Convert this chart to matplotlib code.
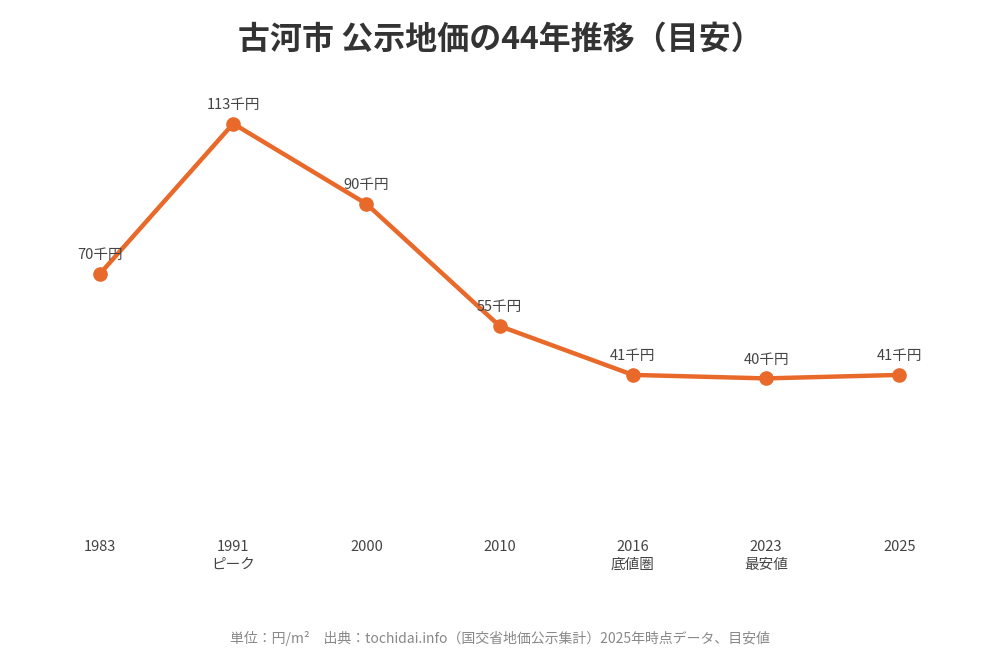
import matplotlib
matplotlib.use("Agg")
import matplotlib.pyplot as plt

plt.rcParams['font.family'] = ['Noto Sans CJK JP', 'DejaVu Sans']

years = ["1983", "1991", "2000", "2010", "2016", "2023", "2025"]
notes = ["", "ピーク", "", "", "底値圏", "最安値", ""]
values = [70, 113, 90, 55, 41, 40, 41]
labels = ["70千円", "113千円", "90千円", "55千円", "41千円", "40千円", "41千円"]

title = "古河市 公示地価の44年推移（目安）"
footer = "単位：円/m²　出典：tochidai.info（国交省地価公示集計）2025年時点データ、目安値"

W, H = 1000, 650
fig = plt.figure(figsize=(W / 100, H / 100), dpi=100)
fig.patch.set_facecolor("white")

# axes placement in pixels
left_px, right_px = 33.4, 965.9
bottom_px, top_px = 518, 90
ax = fig.add_axes([left_px / W, (H - bottom_px) / H, (right_px - left_px) / W, (bottom_px - top_px) / H])
ax.set_xlim(-0.5, len(years) - 0.5)
ax.set_ylim(0, (bottom_px - top_px) / 3.49)

color = "#E8692A"
x = list(range(len(years)))
ax.plot(x, values, color=color, linewidth=3.2, marker="o", markersize=9.5,
        solid_capstyle="round", zorder=3)

for xi, v, lab in zip(x, values, labels):
    ax.annotate(lab, (xi, v), xytext=(0, 8.5), textcoords="offset points",
                ha="center", va="bottom", fontsize=10.5, color="#444444")

for s in ax.spines.values():
    s.set_visible(False)
ax.set_yticks([])
ax.set_xticks(x)
ax.set_xticklabels([y if not n else y + "\n" + n for y, n in zip(years, notes)],
                   fontsize=10.5, color="#444444", linespacing=1.3)
ax.tick_params(axis="x", length=0, pad=16)

fig.text(0.5, 1 - 40 / H, title, ha="center", va="center", fontsize=23,
         fontweight="bold", color="#333333")
fig.text(0.5, 1 - 638 / H, footer, ha="center", va="center", fontsize=10,
         color="#888888")

fig.savefig("out.png", dpi=100, facecolor="white")
